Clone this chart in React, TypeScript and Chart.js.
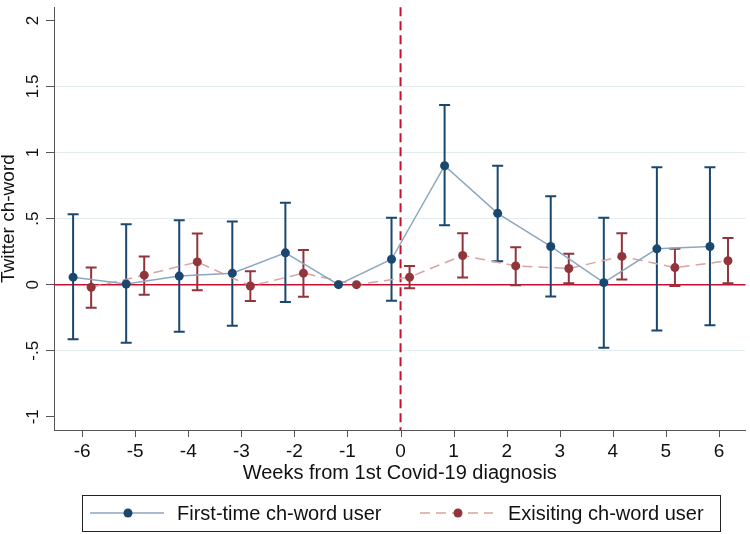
import React, { useEffect, useRef } from 'react';
import { Chart, registerables } from 'chart.js';
Chart.register(...registerables);

const weeks = [-6, -5, -4, -3, -2, -1, 0, 1, 2, 3, 4, 5, 6];
const firstTime = [0.057, 0.005, 0.065, 0.087, 0.241, 0, 0.192, 0.9, 0.54, 0.289, 0.015, 0.271, 0.289];
const firstLow = [-0.413, -0.44, -0.356, -0.311, -0.132, null, -0.122, 0.45, 0.177, -0.09, -0.478, -0.346, -0.308];
const firstHigh = [0.532, 0.457, 0.487, 0.478, 0.62, null, 0.507, 1.36, 0.9, 0.67, 0.507, 0.888, 0.888];
const existing = [-0.02, 0.072, 0.172, -0.01, 0.087, 0, 0.057, 0.221, 0.142, 0.122, 0.214, 0.129, 0.181];
const existLow = [-0.174, -0.077, -0.042, -0.124, -0.092, null, -0.027, 0.055, -0.005, 0.01, 0.04, -0.01, 0.01];
const existHigh = [0.129, 0.214, 0.388, 0.102, 0.263, null, 0.142, 0.39, 0.284, 0.234, 0.39, 0.271, 0.353];
const yTickValues = [-1, -0.5, 0, 0.5, 1, 1.5, 2];
const yTickLabels = ['-1', '-.5', '0', '.5', '1', '1.5', '2'];
const seriesNames = ['First-time ch-word user', 'Exisiting ch-word user'];
const xTitle = 'Weeks from 1st Covid-19 diagnosis';
const yTitle = 'Twitter ch-word';
const xOffset = 0.17;

const FONT = '"Liberation Sans", Arial, Helvetica, sans-serif';
const BLUE = '#1a476f';
const BLUE_LINE = '#8ea7c0';
const RED = '#90353b';
const RED_LINE = '#d9a3a3';
const CRIMSON = '#c8102e';
const AXIS = '#555';

const customPlugin = {
  id: 'customDraw',
  beforeDatasetsDraw(chart: any) {
    const { ctx, chartArea: a, scales } = chart;
    const x = scales.x;
    const y = scales.y;
    ctx.save();
    ctx.strokeStyle = AXIS;
    ctx.lineWidth = 1;
    weeks.forEach((w) => {
      const px = Math.round(x.getPixelForValue(w)) + 0.5;
      ctx.beginPath();
      ctx.moveTo(px, a.bottom);
      ctx.lineTo(px, a.bottom + 7);
      ctx.stroke();
    });
    const y0 = y.getPixelForValue(0);
    ctx.strokeStyle = CRIMSON;
    ctx.lineWidth = 1.5;
    ctx.beginPath();
    ctx.moveTo(a.left, y0);
    ctx.lineTo(a.right, y0);
    ctx.stroke();
    const x0 = x.getPixelForValue(0);
    ctx.setLineDash([9, 5]);
    ctx.lineWidth = 2;
    ctx.beginPath();
    ctx.moveTo(x0, a.top);
    ctx.lineTo(x0, a.bottom);
    ctx.stroke();
    ctx.setLineDash([]);
    const drawBars = (lo: (number | null)[], hi: (number | null)[], off: number, color: string) => {
      ctx.strokeStyle = color;
      ctx.lineWidth = 2;
      weeks.forEach((w, i) => {
        const l = lo[i];
        const h = hi[i];
        if (l === null || h === null) return;
        const px = x.getPixelForValue(w + off);
        const pl = y.getPixelForValue(l);
        const ph = y.getPixelForValue(h);
        ctx.beginPath();
        ctx.moveTo(px, pl);
        ctx.lineTo(px, ph);
        ctx.moveTo(px - 5.5, pl);
        ctx.lineTo(px + 5.5, pl);
        ctx.moveTo(px - 5.5, ph);
        ctx.lineTo(px + 5.5, ph);
        ctx.stroke();
      });
    };
    drawBars(firstLow, firstHigh, -xOffset, BLUE);
    drawBars(existLow, existHigh, xOffset, RED);
    ctx.restore();
  },
  afterDraw(chart: any) {
    const { ctx, chartArea: a, scales } = chart;
    const y = scales.y;
    ctx.save();
    ctx.fillStyle = '#111';
    ctx.font = `17px ${FONT}`;
    ctx.textAlign = 'center';
    ctx.textBaseline = 'middle';
    yTickValues.forEach((v, i) => {
      const py = y.getPixelForValue(v);
      ctx.save();
      ctx.translate(33, py);
      ctx.rotate(-Math.PI / 2);
      ctx.fillText(yTickLabels[i], 0, 0);
      ctx.restore();
    });
    ctx.font = `19px ${FONT}`;
    ctx.save();
    ctx.translate(9, (a.top + a.bottom) / 2);
    ctx.rotate(-Math.PI / 2);
    ctx.fillText(yTitle, 0, 0);
    ctx.restore();
    ctx.font = `20px ${FONT}`;
    ctx.fillText(xTitle, (a.left + a.right) / 2, 473);
    ctx.strokeStyle = '#222';
    ctx.lineWidth = 1;
    ctx.strokeRect(82.5, 495.5, 638, 36);
    const ly = 513;
    ctx.strokeStyle = BLUE_LINE;
    ctx.lineWidth = 1.5;
    ctx.beginPath();
    ctx.moveTo(90, ly);
    ctx.lineTo(164, ly);
    ctx.stroke();
    ctx.fillStyle = BLUE;
    ctx.beginPath();
    ctx.arc(128, ly, 4.5, 0, Math.PI * 2);
    ctx.fill();
    ctx.strokeStyle = RED_LINE;
    ctx.setLineDash([10, 6]);
    ctx.beginPath();
    ctx.moveTo(420, ly);
    ctx.lineTo(493, ly);
    ctx.stroke();
    ctx.setLineDash([]);
    ctx.fillStyle = RED;
    ctx.beginPath();
    ctx.arc(458, ly, 4.5, 0, Math.PI * 2);
    ctx.fill();
    ctx.fillStyle = '#111';
    ctx.textAlign = 'left';
    ctx.fillText(seriesNames[0], 177, ly + 1);
    ctx.fillText(seriesNames[1], 508, ly + 1);
    ctx.restore();
  },
};

export default function App() {
  const ref = useRef<HTMLCanvasElement>(null);
  useEffect(() => {
    if (!ref.current) return;
    const chart = new Chart(ref.current, {
      type: 'line',
      data: {
        datasets: [
          {
            label: seriesNames[0],
            data: weeks.map((w, i) => ({ x: w - xOffset, y: firstTime[i] })),
            borderColor: BLUE_LINE,
            borderWidth: 1.5,
            pointBackgroundColor: BLUE,
            pointBorderColor: BLUE,
            pointRadius: 4.5,
            pointBorderWidth: 0,
            tension: 0,
          },
          {
            label: seriesNames[1],
            data: weeks.map((w, i) => ({ x: w + xOffset, y: existing[i] })),
            borderColor: RED_LINE,
            borderWidth: 1.5,
            borderDash: [10, 6],
            pointBackgroundColor: RED,
            pointBorderColor: RED,
            pointRadius: 4.5,
            pointBorderWidth: 0,
            tension: 0,
          },
        ],
      },
      options: {
        responsive: false,
        animation: false,
        layout: { padding: { top: 3, right: 2, left: 0, bottom: 0 } },
        plugins: { legend: { display: false }, tooltip: { enabled: false } },
        events: [],
        scales: {
          x: {
            type: 'linear',
            min: -6.53,
            max: 6.5,
            afterFit: (s: any) => { s.height = 104; },
            afterBuildTicks: (s: any) => { s.ticks = weeks.map((v) => ({ value: v })); },
            ticks: {
              font: { size: 19, family: FONT },
              color: '#111',
              padding: 10,
            },
            grid: { display: false, drawTicks: false, tickLength: 7 },
            border: { display: true, color: AXIS, width: 1 },
          },
          y: {
            type: 'linear',
            min: -1.1,
            max: 2.1,
            afterFit: (s: any) => { s.width = 54; },
            afterBuildTicks: (s: any) => { s.ticks = yTickValues.map((v) => ({ value: v })); },
            ticks: { callback: () => '', padding: 0 },
            grid: {
              color: (c: any) => ([-1, 0, 2].includes(c.tick?.value) ? 'rgba(0,0,0,0)' : '#e3edf0'),
              tickColor: AXIS,
              tickLength: 8,
              lineWidth: 1,
            },
            border: { color: AXIS, width: 1 },
          },
        },
      },
      plugins: [customPlugin],
    } as any);
    return () => chart.destroy();
  }, []);
  return (
    <div style={{ position: 'fixed', left: 0, top: 0, width: 750, height: 534, overflow: 'hidden', background: '#fff' }}>
      <canvas ref={ref} width={750} height={534} style={{ display: 'block', width: 750, height: 534 }} />
    </div>
  );
}
